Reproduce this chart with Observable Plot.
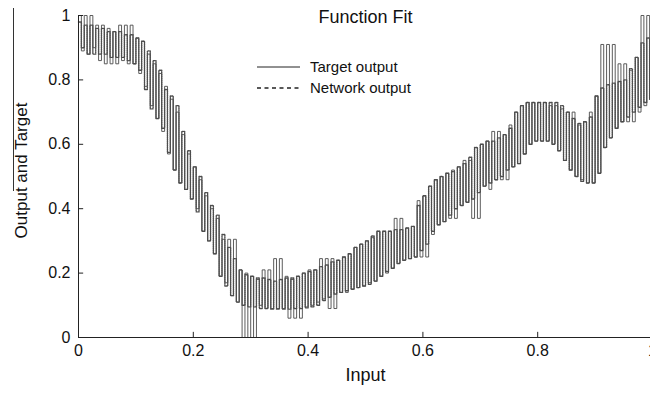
<!DOCTYPE html>
<html>
<head>
<meta charset="utf-8">
<script src="https://cdn.jsdelivr.net/npm/d3@7"></script>
<script src="https://cdn.jsdelivr.net/npm/@observablehq/plot@0.6"></script>
<style>
  html, body { margin: 0; padding: 0; background: #fff; overflow: hidden; }
  #wrap { position: relative; width: 650px; height: 394px; overflow: hidden; font-family: "Liberation Sans", Arial, sans-serif; }
  #wrap > svg { display: block; max-width: none !important; width: 660px !important; height: 394px !important; }
  .legend { position: absolute; left: 257px; top: 56px; font-size: 15px; color: #111; line-height: 21px; }
  .legend div { display: flex; align-items: center; height: 21px; }
  .legend svg { width: 44px; height: 10px; margin-right: 9px; }
  .artifact { position: absolute; left: 13px; top: 8px; width: 1px; height: 183px; background: #333; }
</style>
</head>
<body>
<div id="wrap"></div>
<script>
// Input sample positions (step 0.01); each sample has an upper and lower value
const inputs = d3.range(0, 100).map(i => i / 100);
const halfStep = 0.005;

const networkHigh = [0.98,0.97,0.97,0.96,0.96,0.95,0.95,0.95,0.94,0.94,
  0.93,0.92,0.89,0.86,0.83,0.77,0.75,0.72,0.64,0.58,
  0.53,0.50,0.45,0.41,0.38,0.32,0.28,0.245,0.21,0.195,
  0.19,0.185,0.185,0.18,0.175,0.18,0.185,0.185,0.19,0.20,
  0.205,0.21,0.22,0.225,0.235,0.24,0.25,0.26,0.28,0.29,
  0.30,0.315,0.33,0.33,0.33,0.335,0.335,0.34,0.345,0.41,
  0.44,0.47,0.49,0.50,0.51,0.515,0.53,0.54,0.56,0.59,
  0.60,0.61,0.61,0.62,0.63,0.65,0.70,0.72,0.73,0.73,
  0.73,0.73,0.73,0.73,0.72,0.70,0.68,0.665,0.67,0.685,
  0.75,0.775,0.785,0.79,0.795,0.80,0.835,0.87,0.915,0.93];
const networkLow = [0.90,0.88,0.88,0.88,0.88,0.87,0.87,0.87,0.86,0.85,
  0.83,0.77,0.71,0.68,0.65,0.575,0.52,0.48,0.46,0.43,
  0.39,0.33,0.30,0.26,0.19,0.16,0.13,0.11,0.10,0.095,
  0.095,0.09,0.09,0.088,0.088,0.088,0.088,0.09,0.09,0.092,
  0.095,0.10,0.115,0.125,0.135,0.14,0.145,0.15,0.155,0.16,
  0.165,0.175,0.19,0.205,0.215,0.23,0.24,0.245,0.25,0.27,
  0.29,0.33,0.35,0.36,0.38,0.40,0.41,0.42,0.43,0.45,
  0.47,0.48,0.49,0.50,0.52,0.53,0.54,0.57,0.60,0.61,
  0.61,0.61,0.60,0.58,0.55,0.52,0.50,0.485,0.48,0.48,
  0.51,0.59,0.62,0.65,0.67,0.685,0.70,0.715,0.73,0.74];

const targetHigh = [1.0,1.0,1.0,0.97,0.97,0.96,0.95,0.97,0.97,0.97,
  0.93,0.92,0.88,0.85,0.82,0.78,0.74,0.70,0.63,0.57,
  0.53,0.49,0.44,0.40,0.37,0.305,0.305,0.305,0.21,0.20,
  0.19,0.18,0.21,0.21,0.245,0.245,0.19,0.18,0.19,0.20,
  0.21,0.21,0.245,0.245,0.245,0.24,0.25,0.26,0.28,0.29,
  0.30,0.31,0.33,0.33,0.33,0.37,0.37,0.34,0.345,0.425,
  0.44,0.47,0.49,0.50,0.51,0.52,0.53,0.55,0.55,0.59,
  0.60,0.61,0.64,0.64,0.63,0.66,0.70,0.72,0.73,0.73,
  0.73,0.73,0.72,0.72,0.71,0.70,0.70,0.66,0.67,0.70,
  0.75,0.91,0.91,0.91,0.85,0.85,0.83,0.87,1.0,1.0];
const targetLow = [0.89,0.88,0.90,0.86,0.85,0.85,0.85,0.86,0.85,0.85,
  0.82,0.78,0.72,0.68,0.64,0.57,0.52,0.48,0.46,0.43,
  0.40,0.33,0.30,0.26,0.19,0.17,0.13,0.11,0.0,0.0,
  0.0,0.10,0.09,0.09,0.09,0.09,0.06,0.06,0.06,0.095,
  0.10,0.11,0.12,0.09,0.09,0.14,0.14,0.15,0.155,0.16,
  0.17,0.175,0.19,0.20,0.215,0.23,0.24,0.245,0.25,0.25,
  0.25,0.32,0.35,0.36,0.37,0.37,0.41,0.42,0.37,0.37,
  0.47,0.46,0.49,0.49,0.49,0.53,0.54,0.57,0.60,0.61,
  0.61,0.61,0.60,0.58,0.55,0.52,0.50,0.49,0.48,0.48,
  0.51,0.59,0.62,0.65,0.67,0.67,0.67,0.70,0.72,0.74];

const xTicks = [0, 0.2, 0.4, 0.6, 0.8, 1];
const yTicks = [0, 0.2, 0.4, 0.6, 0.8, 1];
const tickLabel = d => String(d);

function meander(high, low) {
  const pts = [];
  inputs.forEach((x, i) => {
    pts.push({x, y: high[i]});
    pts.push({x: x + halfStep, y: low[i]});
  });
  return pts;
}
const targetPts = meander(targetHigh, targetLow);
const networkPts = meander(networkHigh, networkLow);

const chart = Plot.plot({
  width: 660,
  height: 394,
  marginLeft: 78,
  marginRight: 8,
  marginTop: 15,
  marginBottom: 57,
  style: {fontFamily: "'Liberation Sans', Arial, sans-serif", color: "#111", background: "#fff"},
  x: {domain: [0, 1], axis: null},
  y: {domain: [0, 1], axis: null},
  marks: [
    Plot.line(targetPts, {x: "x", y: "y", curve: "step-after", stroke: "#4a4a4a", strokeWidth: 0.9}),
    Plot.line(networkPts, {x: "x", y: "y", curve: "step-after", stroke: "#4d4d4d", strokeWidth: 1.4, strokeDasharray: "1 1"}),
    Plot.ruleX([0], {stroke: "#222", strokeWidth: 1}),
    Plot.ruleY([0], {stroke: "#222", strokeWidth: 1}),
    Plot.ruleY(yTicks.slice(1), {y: d => d, x1: 0, x2: 0.009, stroke: "#222"}),
    Plot.ruleX(xTicks.slice(1), {x: d => d, y1: 0, y2: 0.016, stroke: "#222"}),
    Plot.axisY(yTicks, {tickSize: 0, tickPadding: 8, fontSize: 16, tickFormat: tickLabel, anchor: "left", label: null}),
    Plot.axisX(xTicks, {tickSize: 0, tickPadding: 7, fontSize: 16, tickFormat: tickLabel, anchor: "bottom", label: null}),
    Plot.text(["Function Fit"], {frameAnchor: "top", dy: -5, fontSize: 18, fill: "#111"}),
    Plot.text(["Input"], {frameAnchor: "bottom", dy: 43, fontSize: 18, fill: "#111"}),
    Plot.text(["Output and Target"], {frameAnchor: "left", dx: -57, dy: -6, rotate: -90, textAnchor: "middle", fontSize: 17, fill: "#111"})
  ]
});

chart.style.maxWidth = "none";
const wrap = document.getElementById("wrap");
wrap.appendChild(chart);

const art = document.createElement("div");
art.className = "artifact";
wrap.appendChild(art);

const legend = document.createElement("div");
legend.className = "legend";
legend.innerHTML =
  '<div><svg><line x1="0" y1="5" x2="43" y2="5" stroke="#222" stroke-width="1"/></svg>Target output</div>' +
  '<div><svg><line x1="0" y1="5" x2="43" y2="5" stroke="#222" stroke-width="1.6" stroke-dasharray="4 3.5"/></svg>Network output</div>';
wrap.appendChild(legend);
</script>
</body>
</html>
